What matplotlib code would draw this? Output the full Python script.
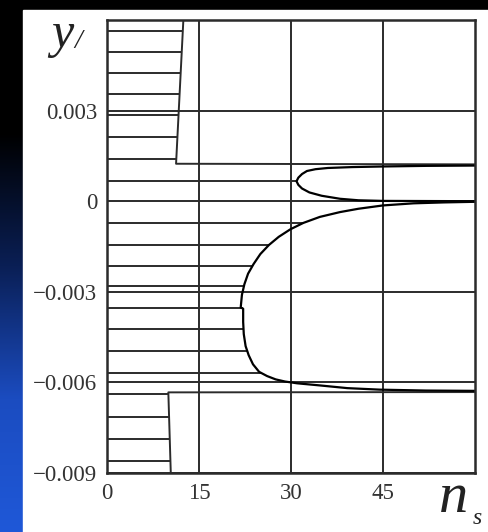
import numpy as np
import matplotlib.pyplot as plt
from matplotlib.colors import LinearSegmentedColormap
from matplotlib.patches import Rectangle

# big stability curve n_s(y), ordered from the upper asymptote down to the lower one
big_n = [60.0, 55.0, 50.0, 45.0, 41.0, 38.0, 34.7, 32.0, 29.9, 28.0, 26.4, 25.0, 23.9,
         23.0, 22.4, 22.0, 21.8, 22.2, 22.2, 22.3, 22.6, 23.1, 23.8, 24.8, 26.1, 27.5,
         29.0, 31.0, 34.7, 39.2, 44.5, 52.0, 60.0]
big_y = [-0.00002, -0.00004, -0.00007, -0.00014, -0.00025, -0.00036, -0.00052, -0.00072,
         -0.00093, -0.00118, -0.00145, -0.00175, -0.00208, -0.0024, -0.00275, -0.0031,
         -0.00352, -0.00356, -0.004, -0.0044, -0.0048, -0.0051, -0.0054, -0.00565,
         -0.00579, -0.0059, -0.00597, -0.00603, -0.0061, -0.00619, -0.00624, -0.00627,
         -0.00628]

# small loop between y = 0 and the upper boundary
loop_n = [60.0, 52.0, 45.0, 40.0, 36.0, 34.0, 32.6, 31.8, 31.2, 30.9, 31.2, 31.8, 33.0,
          35.0, 38.0, 41.0, 45.0, 60.0]
loop_y = [0.00118, 0.00117, 0.00115, 0.00113, 0.0011, 0.00106, 0.001, 0.0009, 0.00078,
          0.00066, 0.00054, 0.00042, 0.00029, 0.00018, 0.00008, 0.00003, 0.00001, 0.0]

# edges of the hatched zones
upper_edge_n = [12.45, 11.26, 60.0]
upper_edge_y = [0.006, 0.00124, 0.00122]
lower_edge_n = [10.4, 10.0, 60.0]
lower_edge_y = [-0.009, -0.00633, -0.00632]

hatch_y = [0.00564, 0.00495, 0.00424, 0.00355, 0.00286, 0.00212, 0.00141, 0.00066,
           -0.00071, -0.00144, -0.00215, -0.0028, -0.00355, -0.00424, -0.00496,
           -0.0057, -0.0064, -0.00714, -0.00786, -0.0086]

x_ticks = [0, 15, 30, 45]
x_labels = ['0', '15', '30', '45']
y_ticks = [0.003, 0.0, -0.003, -0.006, -0.009]
y_labels = ['0.003', '0', '\u22120.003', '\u22120.006', '\u22120.009']

ink = '#2b2b2b'
lw = 1.4

fig = plt.figure(figsize=(4.88, 5.32), dpi=100)

# slide background: black top fading into blue, white panel on top
bg = fig.add_axes([0, 0, 1, 1], zorder=-10)
cmap = LinearSegmentedColormap.from_list('slide', ['#000000', '#000000', '#0a1f55', '#1b4cc0', '#1f58d8'])
grad = np.linspace(0, 1, 256).reshape(-1, 1)
bg.imshow(grad, aspect='auto', cmap=cmap, extent=[0, 1, 0, 1], origin='upper')
bg.add_patch(Rectangle((23 / 488, 0), 1, 1 - 10 / 532, color='white', transform=bg.transAxes))
bg.set_xlim(0, 1)
bg.set_ylim(0, 1)
bg.axis('off')

ax = fig.add_axes([107 / 488, 1 - 473 / 532, 368 / 488, 453 / 532])
ax.set_facecolor('white')
ax.set_xlim(0, 60)
ax.set_ylim(-0.009, 0.006)

# hatching: horizontal strokes from the left edge up to the nearest boundary
for y in hatch_y:
    if y > upper_edge_y[1]:
        x_end = np.interp(y, upper_edge_y[1::-1], upper_edge_n[1::-1])
    elif y < lower_edge_y[1]:
        x_end = np.interp(y, lower_edge_y[:2], lower_edge_n[:2])
    elif y > 0:
        x_end = min(loop_n)
    else:
        x_end = np.interp(y, big_y[::-1], big_n[::-1])
    ax.plot([0, x_end], [y, y], color=ink, lw=lw, solid_capstyle='butt')

ax.plot(upper_edge_n, upper_edge_y, color=ink, lw=lw)
ax.plot(lower_edge_n, lower_edge_y, color=ink, lw=lw)
ax.plot(big_n, big_y, color='black', lw=1.6)
ax.plot(loop_n, loop_y, color='black', lw=1.6)

ax.set_xticks(x_ticks)
ax.set_xticklabels(x_labels)
ax.set_yticks(y_ticks)
ax.set_yticklabels(y_labels)
ax.grid(True, color=ink, lw=lw)
ax.set_axisbelow(True)
ax.tick_params(length=0, pad=7, labelsize=16.5, labelcolor='#333333')
for lab in ax.get_xticklabels() + ax.get_yticklabels():
    lab.set_family('Liberation Serif')
for sp in ax.spines.values():
    sp.set_color(ink)
    sp.set_linewidth(1.8)

# axis names
fig.text(62 / 488, 1 - 35 / 532, 'y', family='Liberation Serif', style='italic',
         fontsize=36, color='#222222', ha='center', va='center')
fig.text(78 / 488, 1 - 41 / 532, '/', family='Liberation Serif', style='italic',
         fontsize=20, color='#222222', ha='center', va='center')
fig.text(454 / 488, 1 - 498 / 532, 'n', family='Liberation Serif', style='italic',
         fontsize=42, color='#222222', ha='center', va='center')
fig.text(477 / 488, 1 - 519 / 532, 's', family='Liberation Serif', style='italic',
         fontsize=17, color='#222222', ha='center', va='center')

fig.savefig('out.png', dpi=100)
